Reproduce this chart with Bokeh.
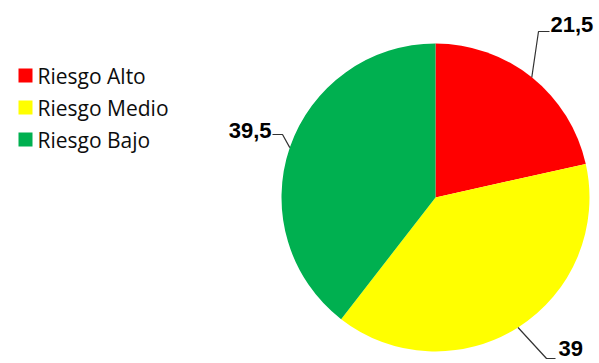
import math
from bokeh.plotting import figure
from bokeh.models import ColumnDataSource, Range1d
from bokeh.core.properties import value
from bokeh.embed import file_html
from bokeh.resources import INLINE

# ---- data ----
categories = ["Riesgo Alto", "Riesgo Medio", "Riesgo Bajo"]
values = [21.5, 39, 39.5]
colors = ["#FF0000", "#FFFF00", "#00B050"]
labels = [str(v).replace(".", ",") if v != int(v) else str(int(v)) for v in values]

W, H = 599, 363


def Y(y):
    return H - y


p = figure(width=W, height=H, x_range=Range1d(0, W), y_range=Range1d(0, H),
           output_backend="svg", toolbar_location=None, min_border=0)
p.axis.visible = False
p.grid.visible = False
p.outline_line_color = None
p.background_fill_color = "white"
p.border_fill_color = "white"

# pie layout
cx, cy, r = 435, 197, 154
total = sum(values)
starts, ends, mids = [], [], []
cum = 0.0
for v in values:
    a0 = math.pi / 2 - 2 * math.pi * cum / total
    cum += v
    a1 = math.pi / 2 - 2 * math.pi * cum / total
    starts.append(a0)
    ends.append(a1)
    mids.append((a0 + a1) / 2)

src = ColumnDataSource(dict(start=starts, end=ends, color=colors, cat=categories))
p.wedge(x=cx, y=Y(cy), radius=r, start_angle="start", end_angle="end",
        direction="clock", fill_color="color", line_color=None, source=src)

# leader lines + labels (layout positions in screen px)
elbows = [(538, 31), (546, 358), (282, 134)]
line_ends = [(549, 31), (555, 358), (272, 134)]
text_pos = [(550, 24), (558, 348), (271, 130)]
aligns = ["left", "left", "right"]

for i in range(len(values)):
    ex = cx + r * math.cos(mids[i])
    ey = Y(cy) + r * math.sin(mids[i])
    xs = [ex, elbows[i][0], line_ends[i][0]]
    ys = [ey, Y(elbows[i][1]), Y(line_ends[i][1])]
    p.line(xs, ys, line_color="#333333", line_width=1.2)
    p.text(x=[text_pos[i][0]], y=[Y(text_pos[i][1])], text=[labels[i]],
           text_font=value("Liberation Sans"), text_font_style="bold",
           text_font_size="22px", text_color="#000000",
           text_align=aligns[i], text_baseline="middle")

# legend (manual)
leg_y = [75, 107, 139]
p.rect(x=[25] * 3, y=[Y(v) for v in leg_y], width=14, height=14,
       fill_color=colors, line_color=None)
p.text(x=[37] * 3, y=[Y(v) for v in leg_y], text=categories,
       text_font=value("Open Sans"), text_font_size="21px",
       text_color="#0d0d0d", text_align="left", text_baseline="middle")

open("out.html", "w").write(file_html(p, INLINE))
